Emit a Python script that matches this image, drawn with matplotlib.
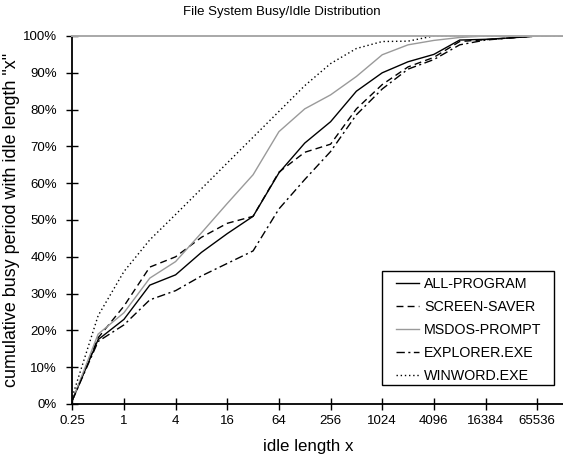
import matplotlib
matplotlib.use("Agg")
import matplotlib.pyplot as plt
from matplotlib.patches import Rectangle
from matplotlib.ticker import FixedLocator, NullLocator

plt.rcParams['font.family'] = ['Liberation Sans', 'DejaVu Sans']

# idle length bins (powers of two)
idle_len = [0.25, 0.5, 1, 2, 4, 8, 16, 32, 64, 128, 256, 512, 1024,
            2048, 4096, 8192, 16384, 32768, 65536, 131072]

# cumulative share of busy periods (%)
all_program = [1, 17.5, 23, 32.3, 35.1, 41.2, 46.3, 51, 62.8, 70.9, 76.7, 85,
               90, 93, 95, 98.9, 99.1, 99.5, 100, 100]
screen_saver = [1, 18, 26.6, 37.2, 40, 45.3, 49.1, 51, 63, 68.4, 70.6, 80.2,
                86.8, 91.6, 94.2, 98.5, 99, 99.5, 100, 100]
msdos_prompt = [1, 19, 24.8, 34.2, 38.7, 46.5, 54.5, 62.3, 74, 80.2, 84, 89,
                94.9, 97.6, 98.8, 99.6, 100, 100, 100, 100]
explorer_exe = [1, 17, 21.5, 28.3, 30.8, 34.8, 38.2, 41.6, 53, 61, 68.6, 78.6,
                85.6, 91, 93.6, 97.6, 98.9, 99.5, 100, 100]
winword_exe = [2, 24, 36, 44.6, 51.5, 58.5, 65.5, 72.5, 79.5, 86.5, 92.5, 96.6,
               98.5, 98.6, 100, 100, 100, 100, 100, 100]

series = [
    ("ALL-PROGRAM", all_program, dict(color="black", linestyle="-")),
    ("SCREEN-SAVER", screen_saver, dict(color="black", linestyle=(0, (5, 3)))),
    ("MSDOS-PROMPT", msdos_prompt, dict(color="#9a9a9a", linestyle="-")),
    ("EXPLORER.EXE", explorer_exe, dict(color="black", linestyle=(0, (6, 2.5, 1.5, 2.5)))),
    ("WINWORD.EXE", winword_exe, dict(color="black", linestyle=(0, (1, 2)))),
]

x_ticks = [0.25, 1, 4, 16, 64, 256, 1024, 4096, 16384, 65536]
x_labels = ["0.25", "1", "4", "16", "64", "256", "1024", "4096", "16384", "65536"]
y_ticks = [i / 100 for i in range(0, 101, 10)]
y_labels = [f"{i}%" for i in range(0, 101, 10)]

W, H = 563, 458
fig = plt.figure(figsize=(W / 100, H / 100), dpi=100)
ax_left, ax_bottom = 72.3 / W, 1 - 404 / H
ax_w, ax_h = (563 - 72.3) / W, (404 - 36) / H
ax = fig.add_axes([ax_left, ax_bottom, ax_w, ax_h])

for name, vals, style in series:
    ax.plot(idle_len, [v / 100 for v in vals], label=name, linewidth=1.0, **style)

ax.set_xscale("log", base=2)
ax.set_xlim(0.25, 2 ** 17)
ax.set_ylim(0, 1)
ax.xaxis.set_major_locator(FixedLocator(x_ticks))
ax.xaxis.set_minor_locator(NullLocator())
ax.set_xticklabels(x_labels)
ax.set_yticks(y_ticks)
ax.set_yticklabels(y_labels)

ax.tick_params(direction="inout", length=8, width=1.0, labelsize=9.5,
               colors="black")
ax.tick_params(axis="y", pad=7)
ax.tick_params(axis="x", pad=4)
ax.spines["right"].set_visible(False)
ax.spines["top"].set_color("#a8a8a8")
ax.spines["top"].set_linewidth(1.4)
ax.spines["left"].set_linewidth(1.3)
ax.spines["bottom"].set_linewidth(1.3)

fig.text(0.5, 1 - 12 / H, "File System Busy/Idle Distribution", ha="center",
         va="center", fontsize=9.5)
fig.text(308 / W, 1 - 447 / H, "idle length x", ha="center", va="center",
         fontsize=12.2)
fig.text(12 / W, 1 - 220 / H, 'cumulative busy period with idle length "x"',
         ha="center", va="center", rotation=90, fontsize=12.9)


def to_axes(px, py):
    """Figure pixel position -> axes fraction."""
    return ((px / W - ax_left) / ax_w, ((1 - py / H) - ax_bottom) / ax_h)


# legend entries, placed inside a plain rectangular frame
lx, ly = to_axes(396, 277.3)
leg = ax.legend(loc="upper left", bbox_to_anchor=(lx, ly), fontsize=10.3,
                frameon=False, handlelength=1.6, handletextpad=0.35,
                labelspacing=0.62, borderpad=0, borderaxespad=0)

bx0, by0 = to_axes(381.7, 385)
bx1, by1 = to_axes(554.3, 271)
ax.add_patch(Rectangle((bx0, by0), bx1 - bx0, by1 - by0, transform=ax.transAxes,
                       facecolor="white", edgecolor="black", linewidth=1.0,
                       zorder=4))
leg.set_zorder(5)

fig.savefig("out.png", dpi=100)
